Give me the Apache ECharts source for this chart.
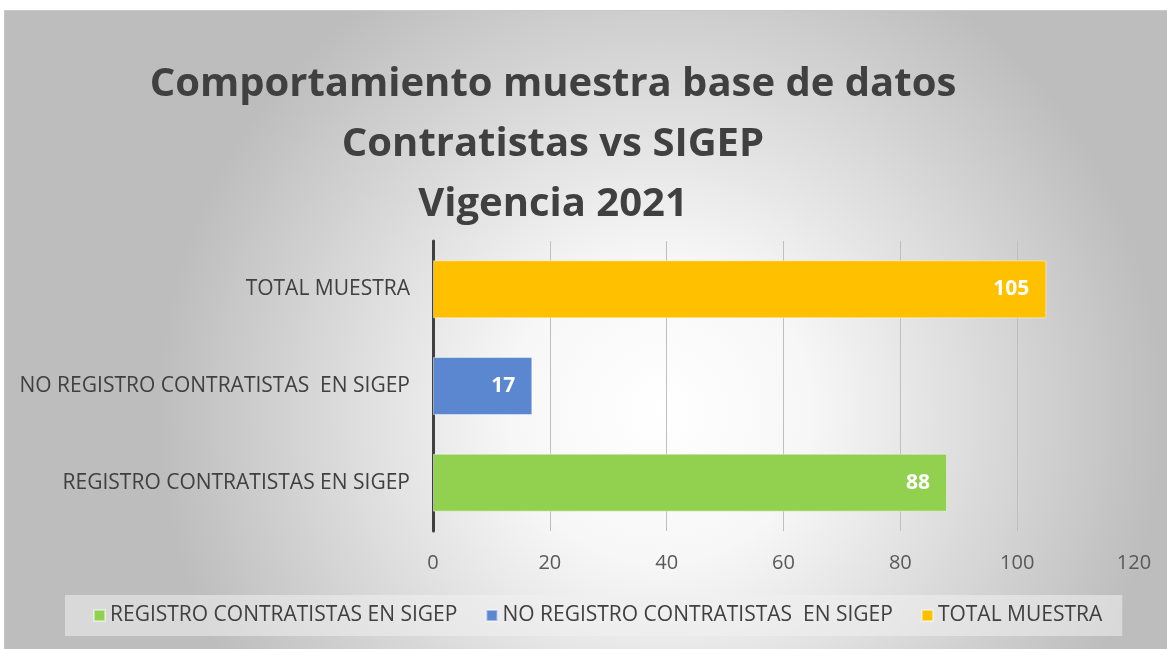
<!DOCTYPE html>
<html lang="es">
<head>
<meta charset="UTF-8">
<title>Comportamiento muestra base de datos</title>
<script src="https://cdn.jsdelivr.net/npm/echarts@6/dist/echarts.min.js"></script>
<style>
    html, body {
        margin: 0;
        padding: 0;
        width: 100%;
        height: 100%;
        overflow: hidden;
        background: #fff;
    }
    /* chart frame starts a few px in, runs past the window on right/bottom */
    #chart {
        position: absolute;
        left: 4px;
        top: 10px;
        width: 1170px;
        height: 645px;
        border-top: 1px solid #c8c8c8;
        border-left: 1px solid #c8c8c8;
    }
</style>
</head>
<body>
<div id="chart"></div>
<script>
    // chart data
    var categories = ['REGISTRO CONTRATISTAS EN SIGEP', 'NO REGISTRO CONTRATISTAS  EN SIGEP', 'TOTAL MUESTRA'];
    var seriesNames = ['REGISTRO CONTRATISTAS EN SIGEP', 'NO REGISTRO CONTRATISTAS  EN SIGEP', 'TOTAL MUESTRA'];
    var seriesValues = [88, 17, 105];
    var seriesColors = ['#92d050', '#5b87d0', '#ffc000'];
    var titleLines = ['Comportamiento muestra base de datos', 'Contratistas vs SIGEP', 'Vigencia 2021'];
    var axisMin = 0, axisMax = 120, axisStep = 20;

    var FONT = '"Open Sans", sans-serif';
    var chart = echarts.init(document.getElementById('chart'));

    // each series only fills its own category, stacked so bars stay centred
    var series = seriesNames.map(function (name, i) {
        var data = categories.map(function (c, j) { return j === i ? seriesValues[i] : '-'; });
        return {
            name: name,
            type: 'bar',
            stack: 'one',
            barWidth: '60%',
            data: data,
            itemStyle: {
                color: seriesColors[i],
                borderColor: 'rgba(255,255,255,0.45)',
                borderWidth: 1
            },
            label: {
                show: true,
                position: 'insideRight',
                distance: 17,
                color: '#fff',
                fontFamily: FONT,
                fontWeight: 'bold',
                fontSize: 21
            }
        };
    });

    chart.setOption({
        backgroundColor: {
            type: 'radial',
            x: 0.56, y: 0.62, r: 0.78,
            colorStops: [
                { offset: 0, color: '#ffffff' },
                { offset: 0.3, color: '#f7f7f7' },
                { offset: 1, color: '#bdbdbd' }
            ]
        },
        textStyle: { fontFamily: FONT },
        graphic: [{
            type: 'text',
            x: 548,
            y: 44,
            style: {
                text: titleLines.join('\n'),
                align: 'center',
                verticalAlign: 'top',
                fill: '#404040',
                font: 'bold 40px ' + FONT,
                lineHeight: 60
            }
        }],
        grid: {
            left: 428,
            top: 230,
            width: 701,
            height: 290
        },
        xAxis: {
            type: 'value',
            min: axisMin,
            max: axisMax,
            interval: axisStep,
            axisLine: { show: false },
            axisTick: { show: false },
            axisLabel: { color: '#595959', fontSize: 20, margin: 22 },
            splitLine: { lineStyle: { color: '#bfbfbf', width: 1 } }
        },
        yAxis: {
            type: 'category',
            data: categories,
            axisLine: { lineStyle: { color: '#404040', width: 3 } },
            axisTick: { show: false },
            axisLabel: { color: '#404040', fontSize: 21, margin: 23 }
        },
        legend: {
            left: 60,
            top: 584,
            width: 1050,
            backgroundColor: 'rgba(240,240,240,0.55)',
            padding: [10, 20, 10, 28],
            itemGap: 28,
            itemWidth: 11,
            itemHeight: 11,
            icon: 'rect',
            textStyle: { color: '#404040', fontSize: 21 },
            data: seriesNames
        },
        series: series
    });
</script>
</body>
</html>
